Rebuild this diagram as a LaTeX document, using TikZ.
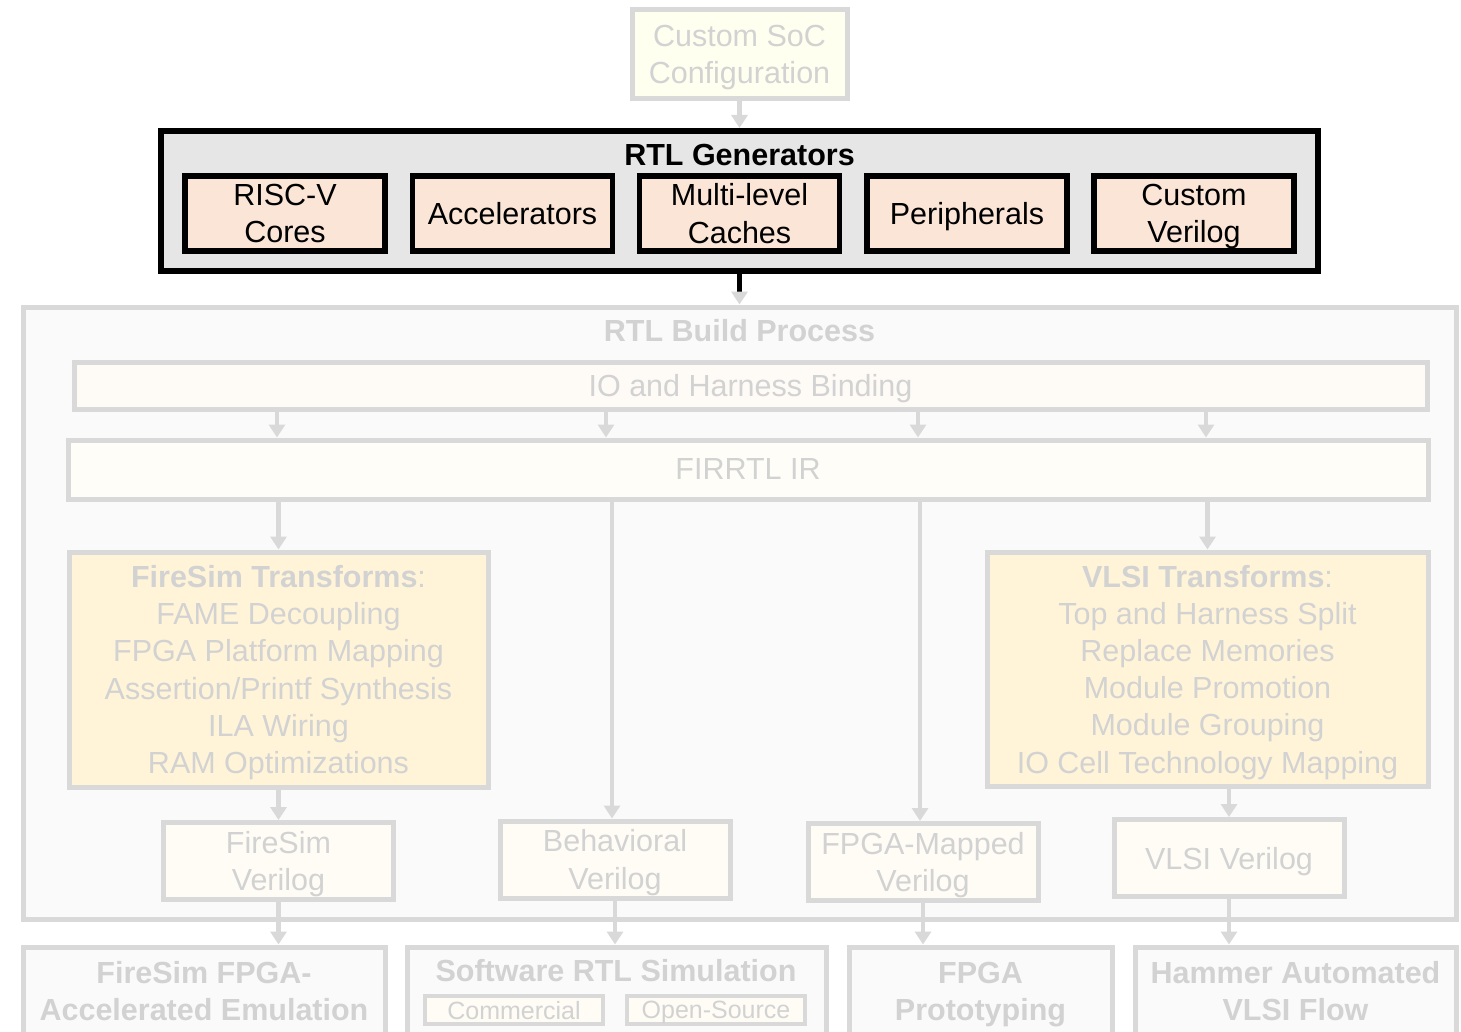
\documentclass[tikz,border=0pt]{standalone}
\usepackage{fontspec}
\setmainfont{Liberation Sans}
\usetikzlibrary{arrows.meta,positioning,calc}
\definecolor{linegray}{RGB}{217,217,217}
\definecolor{textgray}{RGB}{210,210,210}
\definecolor{peach}{RGB}{251,229,214}
\definecolor{genfill}{RGB}{230,230,230}
\definecolor{buildfill}{RGB}{250,250,250}
\definecolor{socfill}{RGB}{254,255,238}
\definecolor{bindfill}{RGB}{254,250,246}
\definecolor{irfill}{RGB}{254,253,247}
\definecolor{xformfill}{RGB}{255,244,216}
\definecolor{vfill}{RGB}{254,252,245}

\begin{document}
\begin{tikzpicture}[x=1pt, y=-1pt, font=\fontsize{30.5}{37.2}\selectfont, box/.style={draw=linegray, line width=5pt, fill=#1, text=textgray, align=center, inner sep=0pt, text depth=0pt}, gen/.style={draw=black, line width=5.5pt, fill=peach, align=center, inner sep=0pt, text depth=0pt, minimum width=200pt, minimum height=75pt}, verilog/.style={box=vfill, minimum width=230pt, minimum height=77pt}, target/.style={box=buildfill, minimum height=88pt, font=\fontsize{30.5}{37.2}\selectfont\bfseries}, tool/.style={box=vfill, line width=4pt, minimum width=178pt, minimum height=28pt, font=\fontsize{25}{28}\selectfont}, arr/.style={-{Triangle[width=16pt,length=13pt]}, line width=4.5pt, draw=linegray}]
\clip (0,0) rectangle (1461,1032);
\fill[white] (0,0) rectangle (1461,1032);
\node[box=socfill, minimum width=215pt, minimum height=89pt] (soc) at (739.5,54.5) {Custom SoC\\Configuration};
\node[draw, line width=6pt, fill=genfill, minimum width=1157pt, minimum height=140pt] (rtlgen) at (739.5,201) {};
\node[font=\fontsize{30.5}{37.2}\selectfont\bfseries] (gentitle) at (739.5,155) {RTL Generators};
\node[gen] (cores) at (285,213.5) {RISC-V\\Cores};
\node[gen] (accel) at (512.5,213.5) {Accelerators};
\node[gen] (caches) at (739.5,213.5) {Multi-level\\Caches};
\node[gen] (periph) at (967,213.5) {Peripherals};
\node[gen] (custom) at (1194,213.5) {Custom\\Verilog};
\node[box=buildfill, minimum width=1433pt, minimum height=612pt] (build) at (739.5,613) {};
\node[text=textgray, font=\fontsize{30.5}{37.2}\selectfont\bfseries] (buildtitle) at (739.5,331) {RTL Build Process};
\node[box=bindfill, minimum width=1353pt, minimum height=47pt] (binding) at (750.5,385.5) {IO and Harness Binding};
\node[box=irfill, minimum width=1360pt, minimum height=59pt] (firrtl) at (748,469.5) {FIRRTL IR};
\node[box=xformfill, minimum width=419pt, minimum height=235pt] (fsxform) at (278.5,669.5) {{\bfseries FireSim Transforms}:\\FAME Decoupling\\FPGA Platform Mapping\\Assertion/Printf Synthesis\\ILA Wiring\\RAM Optimizations};
\node[box=xformfill, minimum width=441pt, minimum height=234pt] (vlsixform) at (1207.5,669) {{\bfseries VLSI Transforms}:\\Top and Harness Split\\Replace Memories\\Module Promotion\\Module Grouping\\IO Cell Technology Mapping};
\node[verilog] (fsv) at (278.5,861) {FireSim\\Verilog};
\node[verilog] (behav) at (615,859.5) {Behavioral\\Verilog};
\node[verilog] (fpgav) at (923,862) {FPGA-Mapped\\Verilog};
\node[verilog] (vlsiv) at (1229,858) {VLSI Verilog};
\node[target, minimum width=362pt] (fsemu) at (204,991) {FireSim FPGA-\\Accelerated Emulation};
\node[target, minimum width=419pt] (swsim) at (616.5,991) {};
\node[text=textgray, font=\fontsize{30.5}{37.2}\selectfont\bfseries] (swtitle) at (616,971) {Software RTL Simulation};
\node[tool] (commercial) at (514,1010) {Commercial};
\node[tool] (opensrc) at (716,1010) {Open-Source};
\node[target, minimum width=263pt] (fpgaproto) at (980.5,991) {FPGA\\Prototyping};
\node[target, minimum width=321pt] (hammer) at (1295.5,991) {Hammer Automated\\VLSI Flow};
\draw[arr] (soc) -- (rtlgen);
\draw[-{Triangle[width=16pt,length=13pt,color=linegray]}, line width=4.5pt] (rtlgen) -- (build);
\foreach \x in {277,606,918,1206}
  \draw[arr] (binding.south -| \x,0) -- (firrtl.north -| \x,0);
\draw[arr] (firrtl.south -| fsxform) -- (fsxform);
\draw[arr] (firrtl.south -| 612,0) -- (behav.north -| 612,0);
\draw[arr] (firrtl.south -| 920,0) -- (fpgav.north -| 920,0);
\draw[arr] (firrtl.south -| vlsixform) -- (vlsixform);
\draw[arr] (fsxform) -- (fsv);
\draw[arr] (vlsixform.south -| vlsiv) -- (vlsiv);
\draw[arr] (fsv) -- (fsv |- fsemu.north);
\draw[arr] (behav) -- (behav |- swsim.north);
\draw[arr] (fpgav) -- (fpgav |- fpgaproto.north);
\draw[arr] (vlsiv) -- (vlsiv |- hammer.north);
\end{tikzpicture}
\end{document}
